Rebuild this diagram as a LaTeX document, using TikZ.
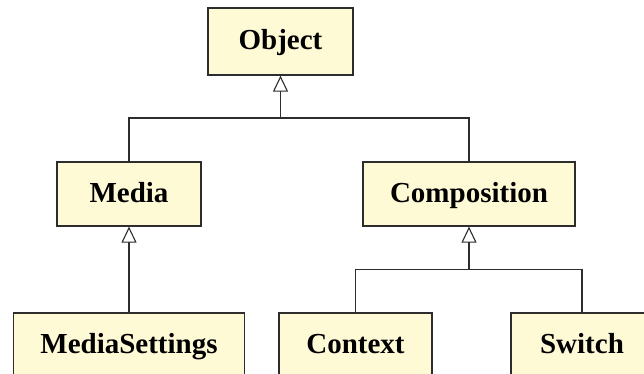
\documentclass[tikz,border=0pt]{standalone}
\usepackage{fontspec}
\setmainfont{Liberation Serif}
\usetikzlibrary{arrows.meta}
\definecolor{boxfill}{RGB}{255,250,214}
\definecolor{boxline}{RGB}{45,45,45}
\tikzset{
  classbox/.style={draw=boxline, line width=1.2bp, fill=boxfill, inner sep=0pt,
    minimum height=64bp, text height=20bp, text depth=4bp,
    font=\fontsize{29bp}{32bp}\selectfont\bfseries},
  link/.style={draw=boxline, line width=1.3bp},
  inherit/.style={link, -{Triangle[fill=white, length=16bp, width=15bp, line width=1.1bp]}}
}
\begin{document}
\begin{tikzpicture}[x=1bp, y=-1bp]
  \useasboundingbox (0,0) rectangle (644,373);
  \clip (0,0) rectangle (644,373);

  % classes
  \node[classbox, minimum width=145bp, minimum height=67bp] (obj) at (280.5,41.5) {Object};
  \node[classbox, minimum width=144bp] (media) at (129,194) {Media};
  \node[classbox, minimum width=212bp] (comp) at (469,194) {Composition};
  \node[classbox, minimum width=231bp] (ms) at (129,345) {MediaSettings};
  \node[classbox, minimum width=153bp] (ctx) at (355.5,345) {Context};
  \node[classbox, minimum width=142bp] (sw) at (582,345) {Switch};

  % junction points of the inheritance trees
  \coordinate (j1) at (280.5,118);
  \coordinate (j2) at (469,269.5);

  % Object <- Media, Composition
  \draw[link] (media.north) |- (j1) -| (comp.north);
  \draw[inherit] (j1) -- (obj.south);

  % Media <- MediaSettings
  \draw[inherit] (ms.north) -- (media.south);

  % Composition <- Context, Switch
  \draw[link] (ctx.north) |- (j2) -| (sw.north);
  \draw[inherit] (j2) -- (comp.south);
\end{tikzpicture}
\end{document}
